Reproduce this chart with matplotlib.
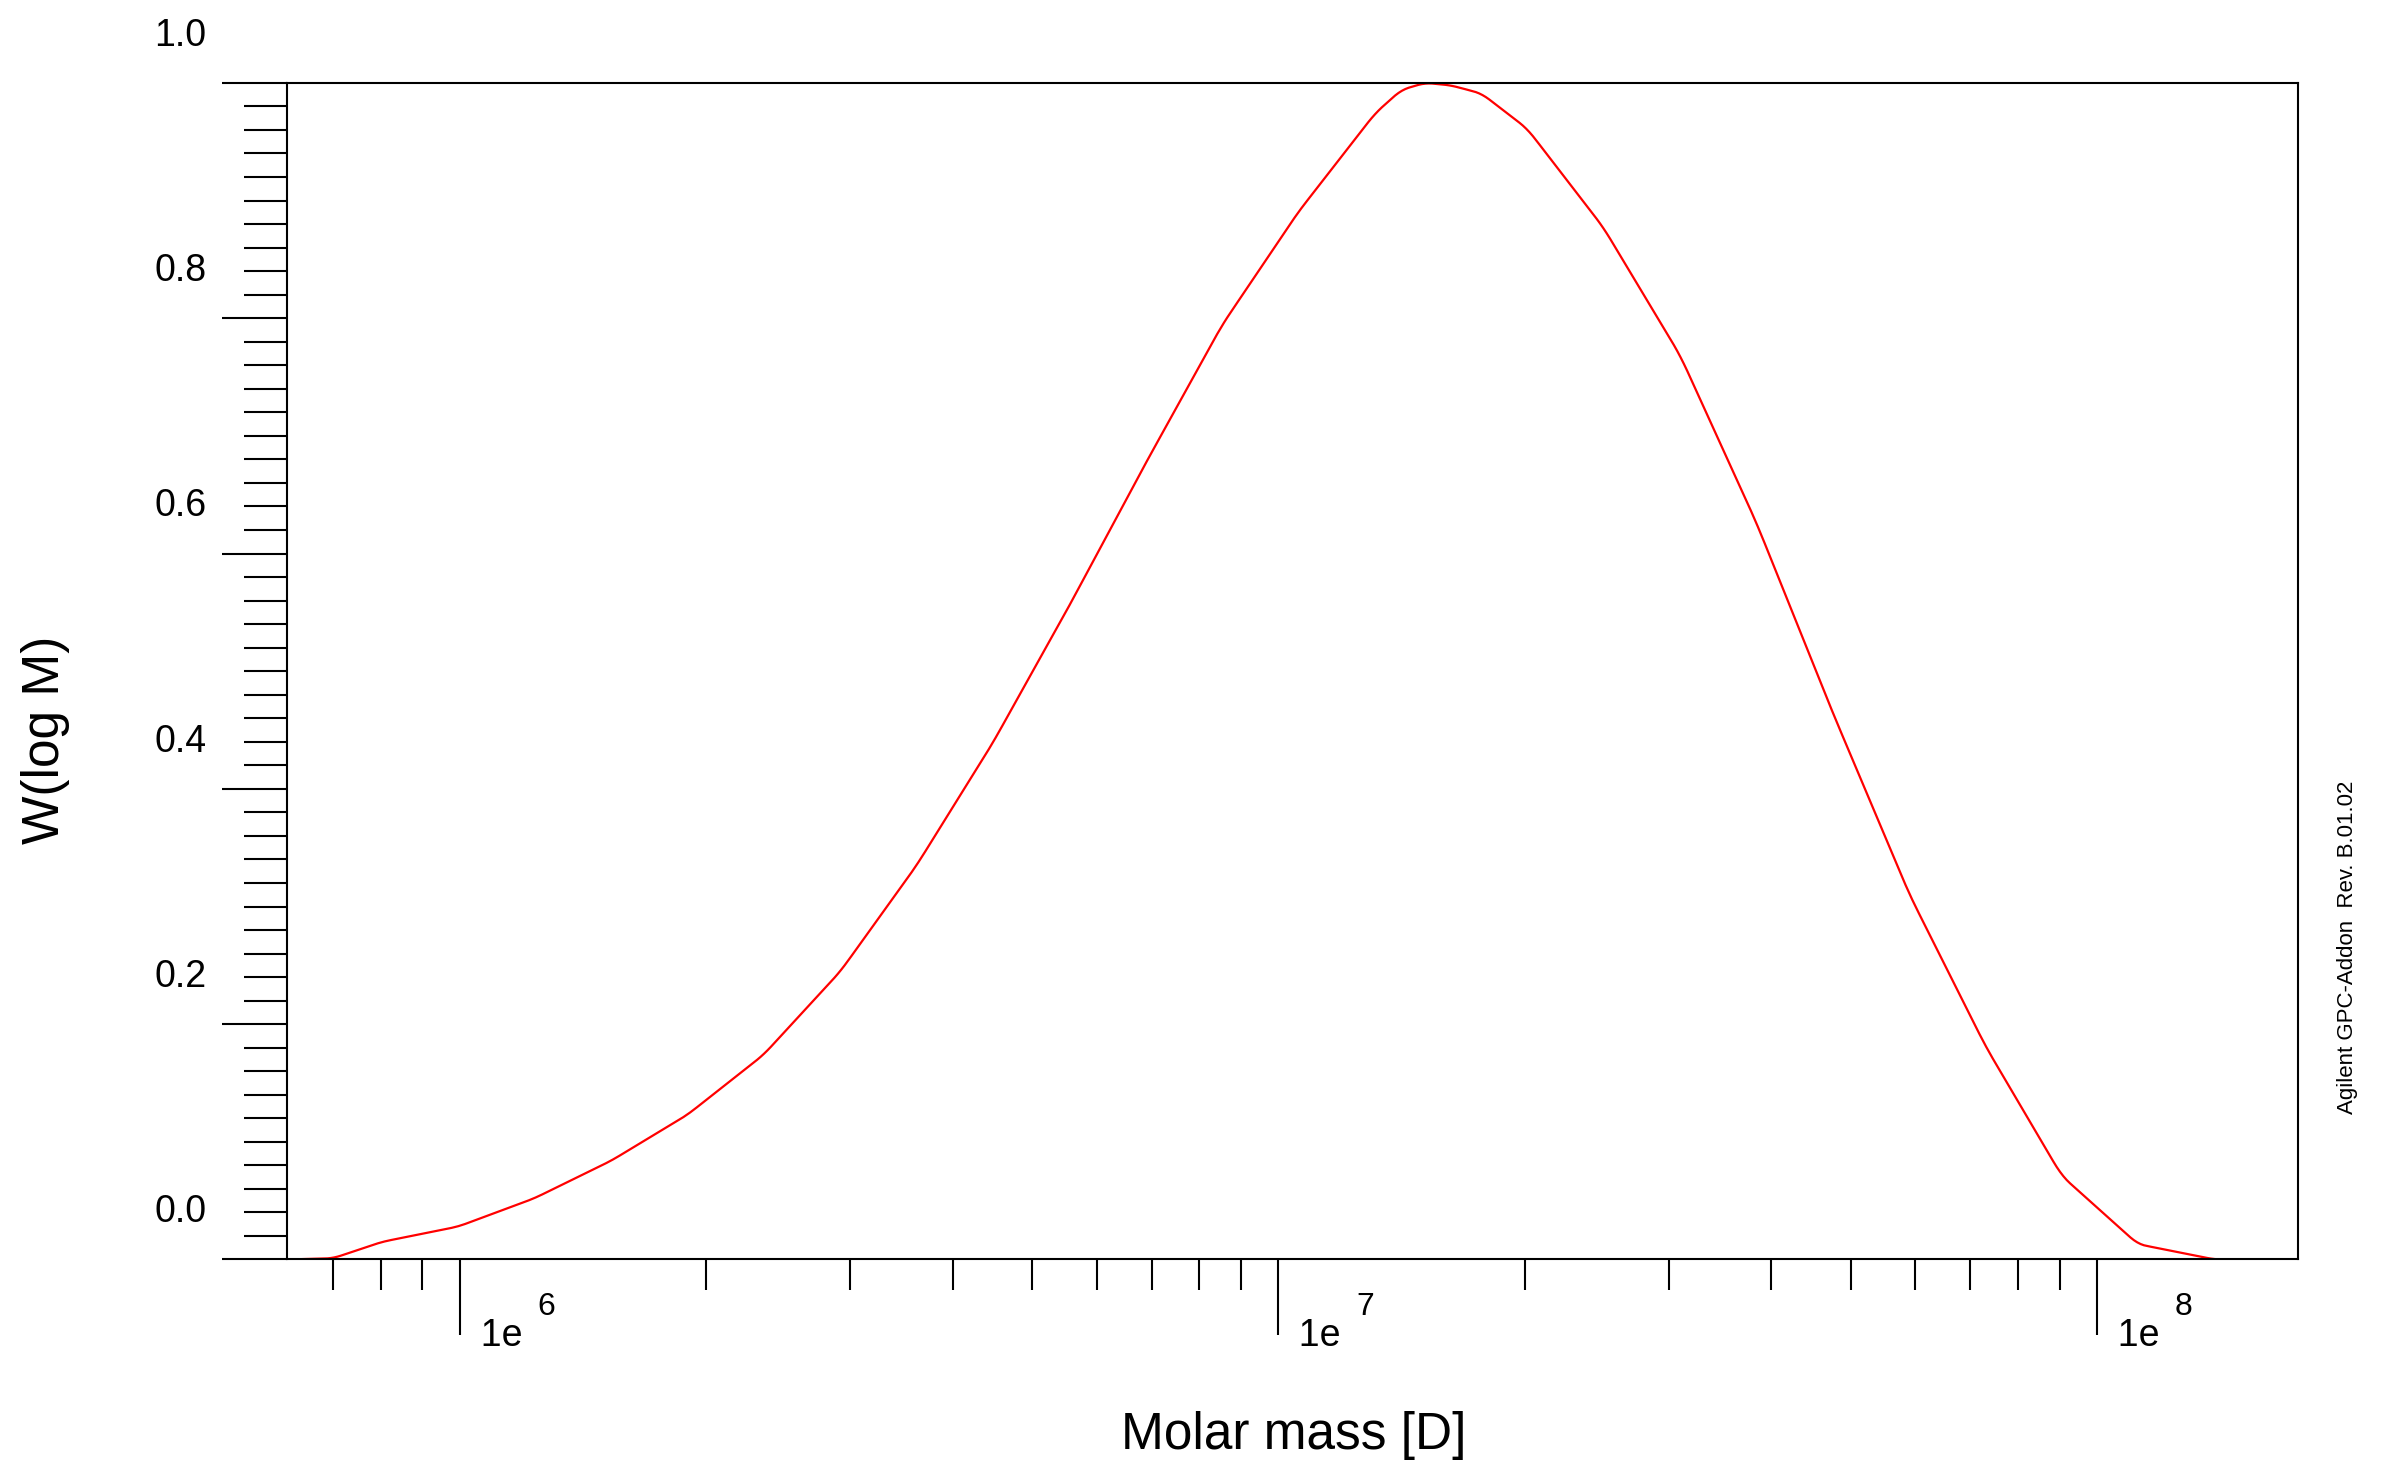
import numpy as np
import matplotlib.pyplot as plt
from matplotlib.ticker import MultipleLocator, LogLocator, NullFormatter
from matplotlib.transforms import blended_transform_factory

plt.rcParams['font.family'] = ['Liberation Sans', 'DejaVu Sans']

# curve: log10(M) and W(log M)
log_m = [5.789, 5.845, 5.905, 5.998, 6.091, 6.185, 6.278, 6.371, 6.465, 6.558,
         6.651, 6.744, 6.838, 6.931, 7.024, 7.118, 7.150, 7.179, 7.210, 7.248,
         7.304, 7.397, 7.491, 7.584, 7.677, 7.771, 7.864, 7.957, 8.050, 8.144, 8.246]
w_log_m = [0.0, 0.001, 0.015, 0.028, 0.052, 0.084, 0.123, 0.174, 0.245, 0.335,
           0.439, 0.555, 0.677, 0.794, 0.890, 0.974, 0.994, 1.0, 0.998, 0.991,
           0.961, 0.877, 0.768, 0.626, 0.465, 0.310, 0.181, 0.071, 0.013, 0.0, 0.0]
y_labels = [0.0, 0.2, 0.4, 0.6, 0.8, 1.0]
x_decades = [6, 7, 8]

# light smoothing between read points
xs = np.linspace(log_m[0], log_m[-1], 600)
ys = np.interp(xs, log_m, w_log_m)
ker = np.ones(5) / 5
ys = np.convolve(np.pad(ys, 2, mode='edge'), ker, mode='valid')

fig = plt.figure(figsize=(23.83, 14.8), dpi=100)
ax = fig.add_axes([0.1205, 0.149, 0.844, 0.795])
ax.plot(10 ** xs, ys, color='red', linewidth=1.6)
ax.set_xscale('log')
ax.set_xlim(10 ** 5.789, 10 ** 8.246)
ax.set_ylim(0, 1)

ax.yaxis.set_major_locator(MultipleLocator(0.2))
ax.yaxis.set_minor_locator(MultipleLocator(0.02))
ax.yaxis.set_major_formatter(NullFormatter())
ax.tick_params(axis='y', which='major', direction='out', length=47, width=1.5)
ax.tick_params(axis='y', which='minor', direction='out', length=31, width=1.5)
ax.xaxis.set_major_locator(LogLocator(base=10, numticks=10))
ax.xaxis.set_minor_locator(LogLocator(base=10, subs=np.arange(2, 10), numticks=100))
ax.xaxis.set_major_formatter(NullFormatter())
ax.xaxis.set_minor_formatter(NullFormatter())
ax.tick_params(axis='x', which='major', direction='out', length=55, width=1.5)
ax.tick_params(axis='x', which='minor', direction='out', length=22, width=1.5)
for s in ax.spines.values():
    s.set_linewidth(1.5)

ytr = blended_transform_factory(ax.transAxes, ax.transData)
for v in y_labels:
    ax.text(-0.04, v + 0.04, f'{v:.1f}', transform=ytr, ha='right', va='center', fontsize=27)

xtr = blended_transform_factory(ax.transData, ax.transAxes)
for d in x_decades:
    ax.text(10 ** d, -0.065, '  1e', transform=xtr, ha='left', va='center', fontsize=27)
    ax.text(10 ** (d + 0.095), -0.04, str(d), transform=xtr, ha='left', va='center', fontsize=23)

fig.text(0.543, 0.03, 'Molar mass [D]', ha='center', va='center', fontsize=37)
fig.text(0.019, 0.50, 'W(log M)', ha='center', va='center', rotation=90, fontsize=37)
fig.text(0.985, 0.36, 'Agilent GPC-Addon  Rev. B.01.02', ha='center', va='center',
         rotation=90, fontsize=16)

fig.savefig('out.png', dpi=100)
